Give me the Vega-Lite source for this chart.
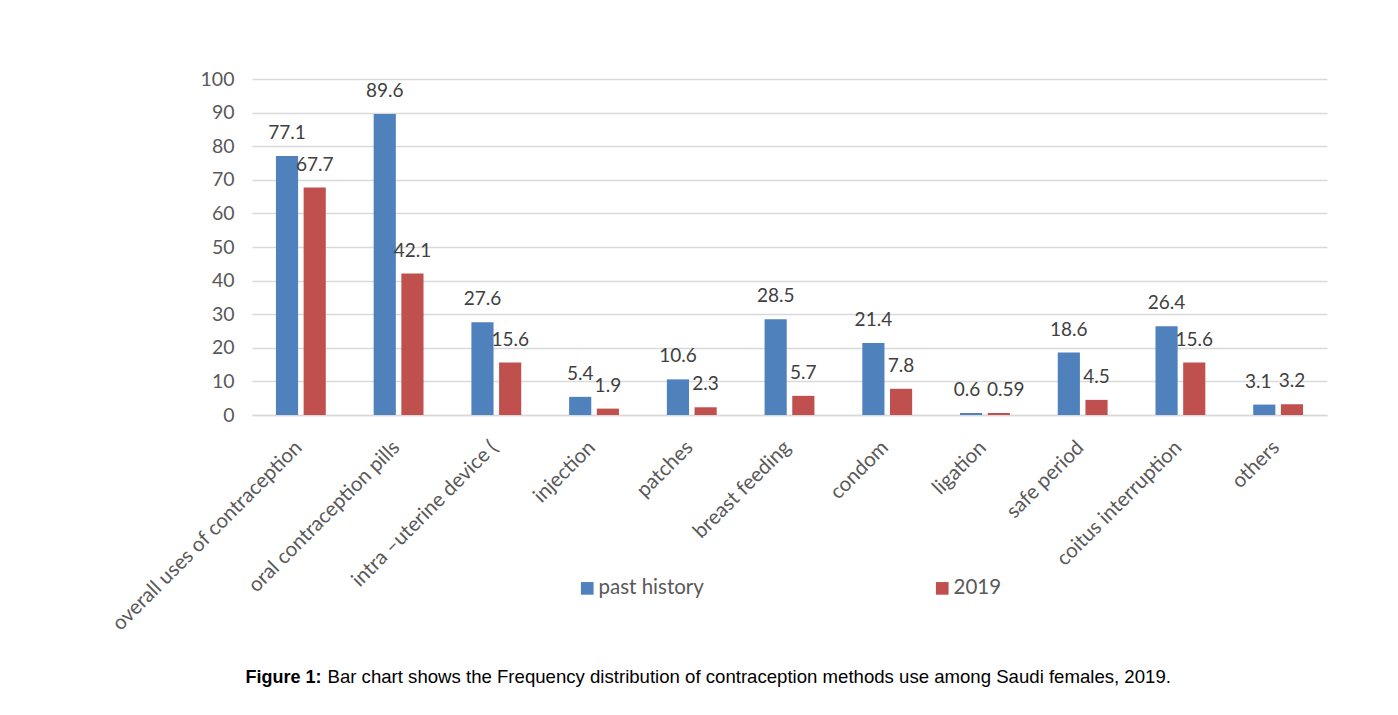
{
  "$schema": "https://vega.github.io/schema/vega-lite/v6.json",
  "width": 1075,
  "height": 336,
  "autosize": {"type": "none"},
  "padding": {"left": 252, "top": 79, "right": 71, "bottom": 300},
  "background": "white",
  "config": {
    "view": {"stroke": null},
    "font": "Lato"
  },
  "data": {
    "values": [
      {"category": "overall uses of contraception", "series": "past history", "value": 77.1},
      {"category": "overall uses of contraception", "series": "2019", "value": 67.7},
      {"category": "oral contraception pills", "series": "past history", "value": 89.6},
      {"category": "oral contraception pills", "series": "2019", "value": 42.1},
      {"category": "intra –uterine device (", "series": "past history", "value": 27.6},
      {"category": "intra –uterine device (", "series": "2019", "value": 15.6},
      {"category": "injection", "series": "past history", "value": 5.4},
      {"category": "injection", "series": "2019", "value": 1.9},
      {"category": "patches", "series": "past history", "value": 10.6},
      {"category": "patches", "series": "2019", "value": 2.3},
      {"category": "breast feeding", "series": "past history", "value": 28.5},
      {"category": "breast feeding", "series": "2019", "value": 5.7},
      {"category": "condom", "series": "past history", "value": 21.4},
      {"category": "condom", "series": "2019", "value": 7.8},
      {"category": "ligation", "series": "past history", "value": 0.6},
      {"category": "ligation", "series": "2019", "value": 0.59},
      {"category": "safe period", "series": "past history", "value": 18.6},
      {"category": "safe period", "series": "2019", "value": 4.5},
      {"category": "coitus interruption", "series": "past history", "value": 26.4},
      {"category": "coitus interruption", "series": "2019", "value": 15.6},
      {"category": "others", "series": "past history", "value": 3.1},
      {"category": "others", "series": "2019", "value": 3.2}
    ]
  },
  "encoding": {
    "x": {
      "field": "category",
      "type": "nominal",
      "sort": null,
      "scale": {"paddingInner": 0.49, "paddingOuter": 0.245},
      "axis": {
        "title": "Bar chart shows the Frequency distribution of contraception methods use among Saudi females, 2019.",
        "titleFont": "Liberation Sans",
        "titleFontSize": 18.6,
        "titleFontWeight": "normal",
        "titleColor": "#000000",
        "titleAlign": "left",
        "titleAnchor": null,
        "titleBaseline": "alphabetic",
        "titleX": 75,
        "titleY": 267,
        "labelAngle": -45,
        "labelFontSize": 20.5,
        "labelColor": "#595959",
        "labelPadding": 22,
        "labelOffset": -9,
        "labelLimit": 400,
        "ticks": false,
        "domainColor": "#d9d9d9",
        "domainWidth": 1.3,
        "grid": false
      }
    },
    "xOffset": {
      "field": "series",
      "type": "nominal",
      "scale": {"domain": ["past history", "2019"], "paddingInner": 0.2, "paddingOuter": 0}
    },
    "y": {
      "field": "value",
      "type": "quantitative",
      "scale": {"domain": [0, 100], "nice": false},
      "axis": {
        "values": [0, 10, 20, 30, 40, 50, 60, 70, 80, 90, 100],
        "title": "Figure 1:",
        "titleFont": "Liberation Sans",
        "titleFontSize": 18,
        "titleFontWeight": "bold",
        "titleColor": "#000000",
        "titleAngle": 0,
        "titleAlign": "left",
        "titleAnchor": null,
        "titleBaseline": "alphabetic",
        "titleX": -7,
        "titleY": 603,
        "labelFontSize": 19.5,
        "labelColor": "#595959",
        "labelPadding": 18,
        "ticks": false,
        "domain": false,
        "gridColor": "#d9d9d9",
        "gridWidth": 1.3
      }
    }
  },
  "layer": [
    {
      "mark": {"type": "bar"},
      "encoding": {
        "color": {
          "field": "series",
          "type": "nominal",
          "scale": {"domain": ["past history", "2019"], "range": ["#4f81bd", "#c0504d"]},
          "legend": {
            "title": null,
            "orient": "none",
            "legendX": 325,
            "legendY": 499,
            "direction": "horizontal",
            "columns": 2,
            "columnPadding": 228,
            "symbolType": "square",
            "symbolSize": 160,
            "symbolStrokeWidth": 0,
            "labelFontSize": 20.5,
            "labelColor": "#595959",
            "labelOffset": 1
          }
        }
      }
    },
    {
      "transform": [{"filter": "datum.category !== 'ligation' && datum.category !== 'others'"}],
      "mark": {"type": "text", "baseline": "alphabetic", "dy": -17, "fontSize": 19, "color": "#404040"},
      "encoding": {"text": {"field": "value", "type": "nominal"}}
    },
    {
      "transform": [{"filter": "datum.category === 'ligation' && datum.series === 'past history'"}],
      "mark": {"type": "text", "baseline": "alphabetic", "dy": -17, "dx": -4, "fontSize": 19, "color": "#404040"},
      "encoding": {"text": {"field": "value", "type": "nominal"}}
    },
    {
      "transform": [{"filter": "datum.category === 'ligation' && datum.series === '2019'"}],
      "mark": {"type": "text", "baseline": "alphabetic", "dy": -17, "dx": 7, "fontSize": 19, "color": "#404040"},
      "encoding": {"text": {"field": "value", "type": "nominal"}}
    },
    {
      "transform": [{"filter": "datum.category === 'others' && datum.series === 'past history'"}],
      "mark": {"type": "text", "baseline": "alphabetic", "dy": -17, "dx": -6, "fontSize": 19, "color": "#404040"},
      "encoding": {"text": {"field": "value", "type": "nominal"}}
    },
    {
      "transform": [{"filter": "datum.category === 'others' && datum.series === '2019'"}],
      "mark": {"type": "text", "baseline": "alphabetic", "dy": -17, "dx": 0, "fontSize": 19, "color": "#404040"},
      "encoding": {"text": {"field": "value", "type": "nominal"}}
    }
  ]
}
